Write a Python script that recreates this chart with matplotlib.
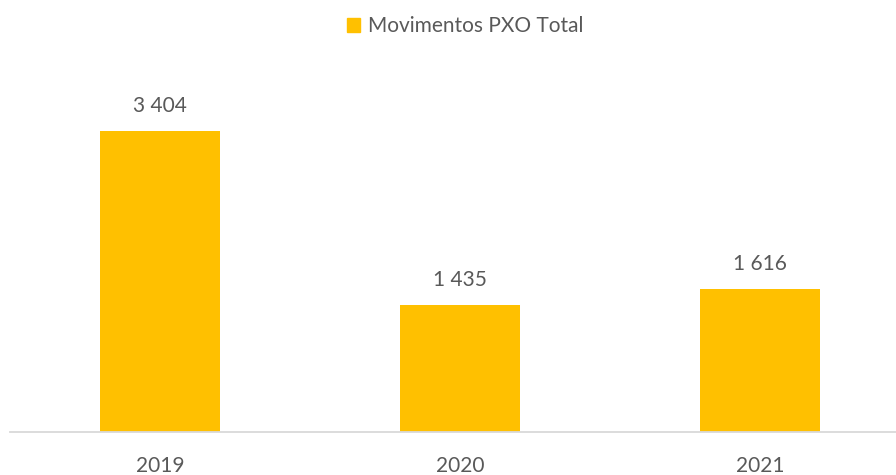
import matplotlib
matplotlib.use("Agg")
import matplotlib.pyplot as plt
from matplotlib.patches import Patch

categories = ["2019", "2020", "2021"]
values = [3404, 1435, 1616]
labels = ["3 404", "1 435", "1 616"]
series_name = "Movimentos PXO Total"

plt.rcParams['font.family'] = ['Lato', 'DejaVu Sans']
text_color = "#595959"
bar_color = "#FFC000"

fig = plt.figure(figsize=(8.96, 4.75), dpi=100)
W, H = 896, 475
ax = fig.add_axes([10 / W, (H - 432) / H, 886 / W, 372 / H])
x = list(range(len(categories)))
ax.bar(x, values, width=0.4, color=bar_color, zorder=2)
ax.set_xlim(-0.5, -0.5 + 886 / 300)
ax.set_ylim(0, 372 * 3404 / 301)
for xi, v, lab in zip(x, values, labels):
    ax.annotate(lab, (xi, v), xytext=(0, 11), textcoords="offset points",
                ha="center", va="bottom", fontsize=15, color=text_color)
ax.set_xticks(x)
ax.set_xticklabels(categories, fontsize=15, color=text_color)
ax.tick_params(axis="x", length=0, pad=17)
ax.set_yticks([])
for s in ["top", "right", "left"]:
    ax.spines[s].set_visible(False)
ax.spines["bottom"].set_color("#D9D9D9")
ax.spines["bottom"].set_linewidth(1.3)

fig.legend(handles=[Patch(color=bar_color, label=series_name)],
           loc="center", bbox_to_anchor=(465 / W, 1 - 26 / H), frameon=False,
           fontsize=15, labelcolor=text_color, handlelength=0.65, handleheight=0.65,
           handletextpad=0.35)

fig.savefig("out.png", dpi=100)
